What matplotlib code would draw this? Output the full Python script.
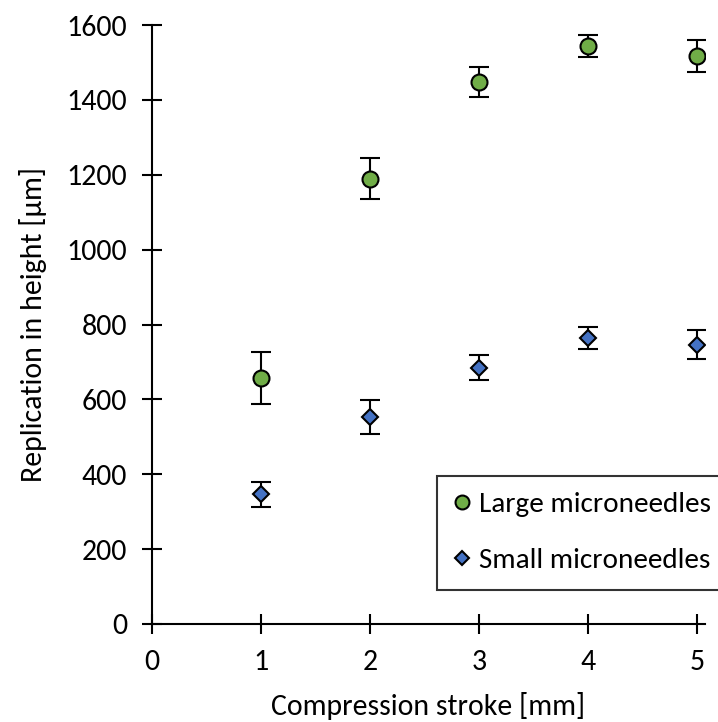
import numpy as np
import matplotlib
matplotlib.use("Agg")
import matplotlib.pyplot as plt
from matplotlib.lines import Line2D

plt.rcParams['font.family'] = ['Carlito', 'Open Sans', 'DejaVu Sans']

stroke = [1, 2, 3, 4, 5]
large_mean = [657, 1189, 1448, 1544, 1517]
large_err = [70, 55, 40, 30, 43]
small_mean = [346, 553, 685, 764, 746]
small_err = [33, 45, 33, 29, 39]

fig = plt.figure(figsize=(7.18, 7.22), dpi=100)
ax = fig.add_axes([152 / 718, 1 - 624 / 722, (705 - 152) / 718, (624 - 25) / 722])

ax.errorbar(stroke, large_mean, yerr=large_err, fmt='o', color='#70AD47',
            markeredgecolor='black', markeredgewidth=1.5, markersize=11.5,
            ecolor='black', elinewidth=1.5, capsize=7.5, capthick=1.5, zorder=3)
ax.errorbar(stroke, small_mean, yerr=small_err, fmt='D', color='#4472C4',
            markeredgecolor='black', markeredgewidth=1.5, markersize=8,
            ecolor='black', elinewidth=1.5, capsize=7.5, capthick=1.5, zorder=3)

ax.set_xlim(0, 5.07)
ax.set_ylim(0, 1600)
ax.set_xticks(range(0, 6))
ax.set_yticks(range(0, 1601, 200))
for s in ['top', 'right']:
    ax.spines[s].set_visible(False)
for s in ['left', 'bottom']:
    ax.spines[s].set_linewidth(1.5)
ax.tick_params(axis='both', direction='inout', length=14, width=1.5,
               labelsize=21.5, pad=11)
ax.set_xlabel('Compression stroke [mm]', fontsize=21.5, labelpad=12)
ax.set_ylabel('Replication in height [µm]', fontsize=21.5, labelpad=14)

handles = [
    Line2D([], [], ls='none', marker='o', markersize=10, markerfacecolor='#70AD47',
           markeredgecolor='black', markeredgewidth=1.5),
    Line2D([], [], ls='none', marker='D', markersize=7, markerfacecolor='#4472C4',
           markeredgecolor='black', markeredgewidth=1.5),
]
leg = ax.legend(handles, ['Large microneedles', 'Small microneedles'],
                loc='upper left', bbox_to_anchor=(437 / 718, 1 - 588 / 722, 0.45, 112 / 722),
                bbox_transform=fig.transFigure, mode='expand', frameon=True, fancybox=False,
                fontsize=21, handlelength=0.6, handletextpad=0.3,
                labelspacing=1.05, borderpad=0.55, borderaxespad=0)
leg.get_frame().set_edgecolor('black')
leg.get_frame().set_linewidth(1.5)

fig.savefig('out.png', dpi=100)
